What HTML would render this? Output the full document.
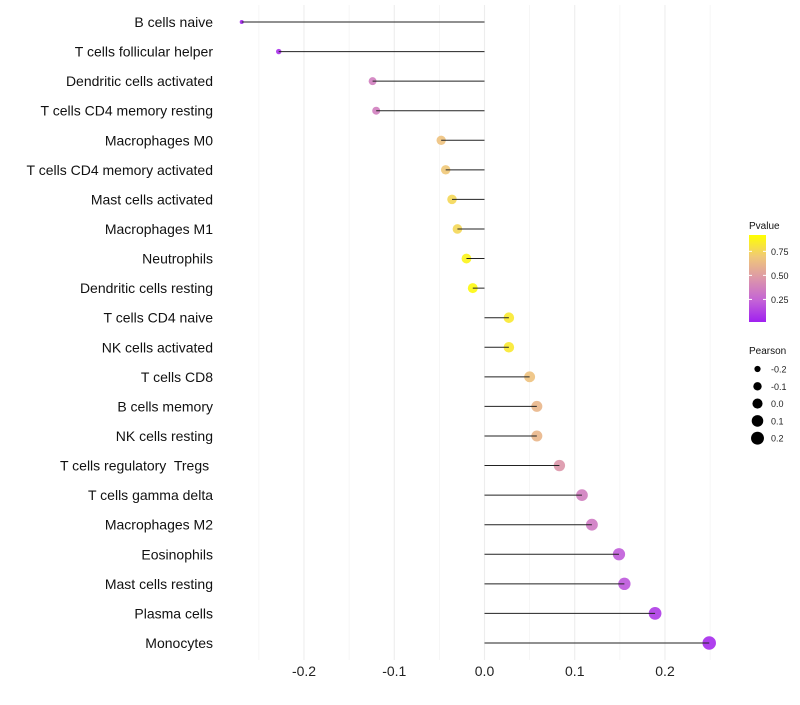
<!DOCTYPE html>
<html><head><meta charset="utf-8"><style>
body{margin:0;background:#fff;font-family:"Liberation Sans",sans-serif}
#ylabels text{white-space:pre}
</style></head><body>
<svg id="chart" width="800" height="700" xmlns="http://www.w3.org/2000/svg">
<g id="grid"></g>
<g id="marks"></g>
<g id="ylabels"></g>
<g id="xlabels"></g>
<g id="legend"></g>
</svg>
<script>
const categories=["B cells naive","T cells follicular helper","Dendritic cells activated","T cells CD4 memory resting","Macrophages M0","T cells CD4 memory activated","Mast cells activated","Macrophages M1","Neutrophils","Dendritic cells resting","T cells CD4 naive","NK cells activated","T cells CD8","B cells memory","NK cells resting","T cells regulatory  Tregs ","T cells gamma delta","Macrophages M2","Eosinophils","Mast cells resting","Plasma cells","Monocytes"];
const pearson=[-0.269,-0.228,-0.124,-0.120,-0.048,-0.043,-0.036,-0.030,-0.020,-0.013,0.027,0.027,0.050,0.058,0.058,0.083,0.108,0.119,0.149,0.155,0.189,0.249];
const pvalue=[0.02,0.06,0.38,0.38,0.72,0.75,0.82,0.82,0.95,0.97,0.9,0.9,0.72,0.66,0.66,0.5,0.38,0.36,0.22,0.2,0.1,0.04];
const xTicks=[-0.2,-0.1,0.0,0.1,0.2];
const xTickLabels=["-0.2","-0.1","0.0","0.1","0.2"];
const minorTicks=[-0.25,-0.15,-0.05,0.05,0.15,0.25];
const sizeLegend=[-0.2,-0.1,0.0,0.1,0.2];
const colorLegendTicks=[0.25,0.5,0.75];

const NS="http://www.w3.org/2000/svg";
function mk(tag,attrs,parent){const e=document.createElementNS(NS,tag);for(const k in attrs)e.setAttribute(k,attrs[k]);parent.appendChild(e);return e;}
const x=v=>484.5+v*902.5;
const y=i=>22+i*29.57;
const rad=v=>Math.sqrt(Math.max(2.5,4+(v+0.27)*80));
const stops=[[0,[160,32,240]],[0.25,[196,100,214]],[0.5,[220,150,170]],[0.75,[240,200,120]],[1,[255,255,0]]];
function col(p){p=Math.max(0,Math.min(1,p));for(let i=1;i<stops.length;i++){if(p<=stops[i][0]){const a=stops[i-1],b=stops[i];const t=(p-a[0])/(b[0]-a[0]);const c=a[1].map((v,k)=>Math.round(v+(b[1][k]-v)*t));return `rgb(${c.join(',')})`;}}return 'rgb(255,255,0)';}
const grid=document.getElementById('grid'),marks=document.getElementById('marks'),yl=document.getElementById('ylabels'),xl=document.getElementById('xlabels'),lg=document.getElementById('legend');
minorTicks.forEach(v=>{const l=mk('line',{x1:x(v),x2:x(v),y1:5,y2:660,stroke:'#f3f3f3','stroke-width':0.8},grid);

});
xTicks.forEach((v,i)=>{const l=mk('line',{x1:x(v),x2:x(v),y1:5,y2:660,stroke:'#ededed','stroke-width':1.1},grid);


const t=mk('text',{x:x(v),y:676,'text-anchor':'middle','font-size':14,fill:'#222'},xl);t.textContent=xTickLabels[i];

});
categories.forEach((c,i)=>{
const cy=y(i),v=pearson[i];
const pt=mk('circle',{cx:x(v),cy:cy,r:rad(v),fill:col(pvalue[i]),'fill-opacity':0.9},marks);


const ln=mk('line',{x1:x(0),x2:x(v),y1:cy,y2:cy,stroke:'#222','stroke-width':1},marks);


const t=mk('text',{x:213,y:cy+5,'text-anchor':'end','font-size':14,fill:'#111','xml:space':'preserve'},yl);t.textContent=c;

});
const tt=mk('text',{x:749,y:229,'font-size':10,fill:'#111'},lg);tt.textContent='Pvalue';


const defs=mk('defs',{},lg);const gr=mk('linearGradient',{id:'pg',x1:0,y1:1,x2:0,y2:0},defs);
stops.forEach(s=>mk('stop',{offset:s[0],'stop-color':`rgb(${s[1].join(',')})`},gr));
const pmin=0.015,pmax=0.92,barTop=235,barBot=322;
const py=p=>barBot-(p-pmin)/(pmax-pmin)*(barBot-barTop);
const bar=mk('rect',{x:749,y:barTop,width:17,height:barBot-barTop,fill:'url(#pg)'},lg);


colorLegendTicks.forEach(p=>{mk('line',{x1:749,x2:752,y1:py(p),y2:py(p),stroke:'#fff'},lg);mk('line',{x1:763,x2:766,y1:py(p),y2:py(p),stroke:'#fff'},lg);
const t=mk('text',{x:771,y:py(p)+3.5,'font-size':9,fill:'#222'},lg);t.textContent=p.toFixed(2);

});
const st=mk('text',{x:749,y:354,'font-size':10,fill:'#111'},lg);st.textContent='Pearson';


sizeLegend.forEach((v,i)=>{const cy=369+i*17.3;
const c=mk('circle',{cx:757.5,cy:cy,r:rad(v),fill:'#000'},lg);


const t=mk('text',{x:771,y:cy+3.5,'font-size':9,fill:'#222'},lg);t.textContent=v.toFixed(1);

});
</script>
</body></html>
